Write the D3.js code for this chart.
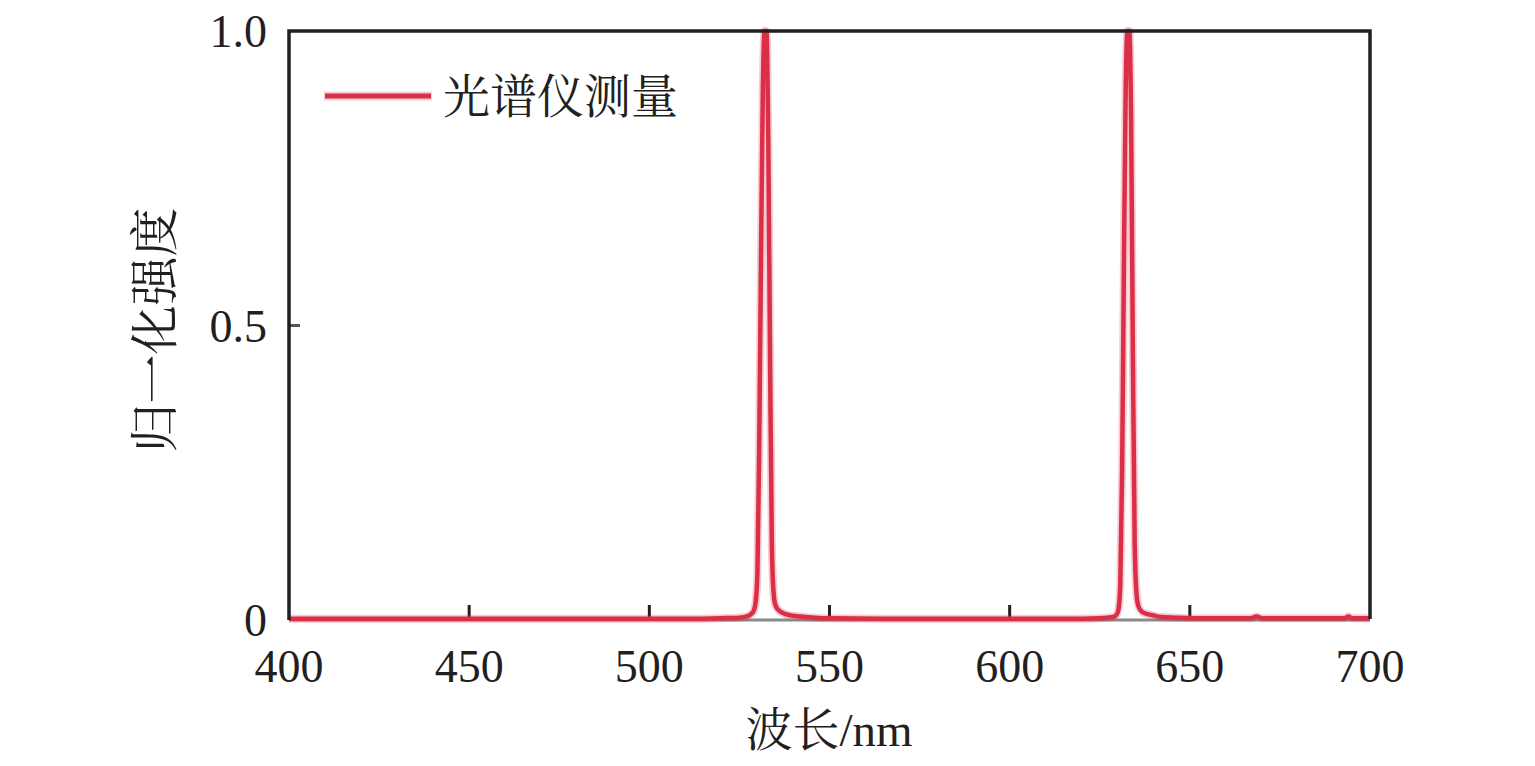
<!DOCTYPE html>
<html><head><meta charset="utf-8">
<script src="https://cdn.jsdelivr.net/npm/d3@7/dist/d3.min.js"></script>
<style>body{margin:0;background:#fff}svg{display:block}</style>
</head><body>
<svg id="c" width="1535" height="766"></svg>
<script>
// Data
const wavelength = [400,420,450,480,500,510,520,525,527,528,529,529.5,530,530.5,531,531.5,532,532.5,533,533.5,534,534.5,535,536,537,539,542,546,550,570,600,615,625,628.7,629.7,630.2,630.7,631.2,631.7,632.2,632.7,633.2,633.7,634.2,634.7,635.2,635.7,636.7,637.7,639.7,642,646,652,660,667,668.5,670,680,690,693,694,695,697,700];
const intensity  = [0.002,0.002,0.002,0.002,0.002,0.002,0.003,0.004,0.006,0.009,0.016,0.03,0.08,0.3,0.62,0.9,1.0,1.0,0.82,0.45,0.13,0.045,0.025,0.016,0.012,0.008,0.006,0.004,0.003,0.002,0.002,0.002,0.003,0.005,0.009,0.018,0.06,0.25,0.6,0.9,1.0,1.0,0.85,0.45,0.13,0.045,0.024,0.014,0.011,0.008,0.005,0.004,0.003,0.003,0.003,0.006,0.003,0.003,0.003,0.003,0.006,0.003,0.003,0.003];
const xTicks = [400,450,500,550,600,650,700];
const yTicks = [0,0.5,1.0];
const yTickLabels = ["0","0.5","1.0"];
const seriesName = "光谱仪测量";
const xTitle = "波长/nm";
const yTitle = "归一化强度";

const svg = d3.select("#c");
const L=289,R=1370,T=31,B=620;
const x = d3.scaleLinear().domain([400,700]).range([L,R]);
const y = d3.scaleLinear().domain([0,1]).range([B,T]);
const font = "'Liberation Serif','Times New Roman','Noto Serif CJK SC','Noto Sans CJK SC',serif";
const red = "#db2f48";

// bottom axis baseline (gray, under data)
svg.append("line").attr("x1",L).attr("x2",R).attr("y1",B).attr("y2",B).attr("stroke","#8a8a8a").attr("stroke-width",3);

// x ticks inside
svg.append("g").selectAll("line").data(xTicks.slice(1,-1)).join("line")
  .attr("x1",d=>x(d)).attr("x2",d=>x(d)).attr("y1",B).attr("y2",B-15)
  .attr("stroke","#231f20").attr("stroke-width",3);
// y tick at 0.5 inside
svg.append("line").attr("x1",L).attr("x2",L+11).attr("y1",y(0.5)).attr("y2",y(0.5))
  .attr("stroke","#555").attr("stroke-width",3);

// data line
const line = d3.line().x((d,i)=>x(wavelength[i])).y(d=>y(d)).curve(d3.curveMonotoneX);
svg.append("path").datum(intensity).attr("d",line).attr("fill","none")
  .attr("stroke",red).attr("stroke-opacity",0.25).attr("stroke-width",8).attr("stroke-linejoin","round");
svg.append("path").datum(intensity).attr("d",line).attr("fill","none")
  .attr("stroke",red).attr("stroke-width",4.5).attr("stroke-linejoin","round");

// frame: left, top, right
svg.append("path").attr("d",`M${L},${B}V${T}H${R}V${B-1}`).attr("fill","none")
  .attr("stroke","#231f20").attr("stroke-width",3.5);

// tick labels
svg.append("g").selectAll("text").data(xTicks).join("text")
  .attr("x",d=>x(d)).attr("y",682).attr("text-anchor","middle")
  .attr("font-family",font).attr("font-size",46).attr("fill","#231f20").text(d=>d);
svg.append("g").selectAll("text").data(yTicks).join("text")
  .attr("x",267).attr("y",d=>y(d)+16).attr("text-anchor","end")
  .attr("font-family",font).attr("font-size",46).attr("fill","#231f20").text((d,i)=>yTickLabels[i]);

// axis titles
svg.append("text").attr("x",829).attr("y",746).attr("text-anchor","middle")
  .attr("font-family",font).attr("font-size",47).attr("fill","#231f20").text(xTitle);
svg.append("text").attr("transform","translate(172,330) rotate(-90)").attr("text-anchor","middle")
  .attr("font-family",font).attr("font-size",49).attr("fill","#231f20").text(yTitle);

// legend
svg.append("line").attr("x1",324).attr("x2",432).attr("y1",96).attr("y2",96)
  .attr("stroke",red).attr("stroke-opacity",0.25).attr("stroke-width",9);
svg.append("line").attr("x1",325).attr("x2",431).attr("y1",96).attr("y2",96)
  .attr("stroke",red).attr("stroke-width",5);
svg.append("text").attr("x",443).attr("y",113).attr("font-family",font).attr("font-size",47)
  .attr("fill","#231f20").text(seriesName);
</script>
</body></html>
